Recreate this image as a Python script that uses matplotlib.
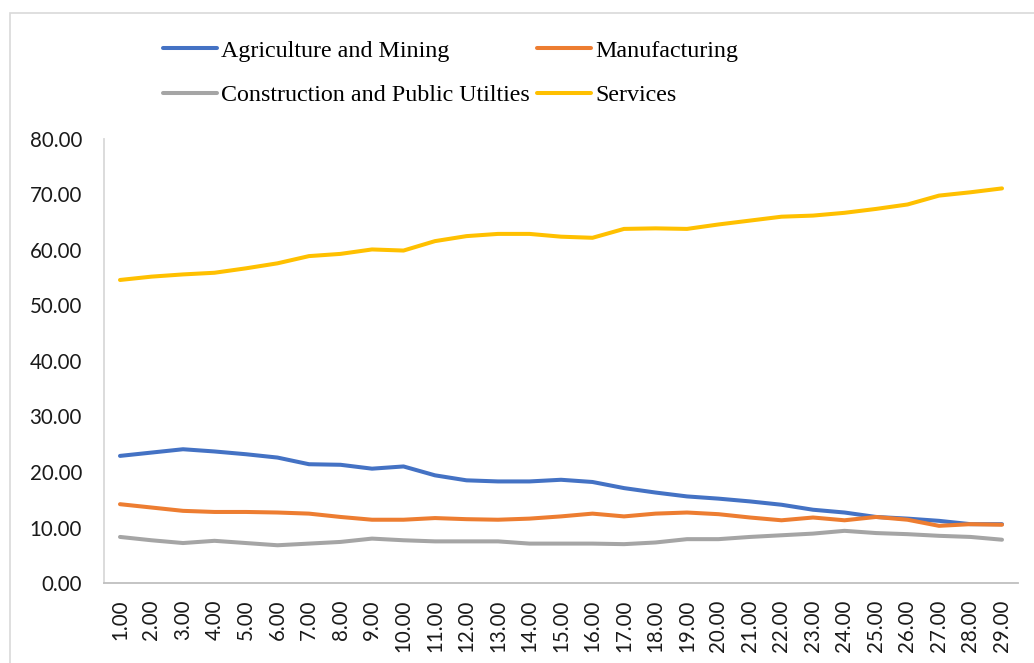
import numpy as np
import matplotlib.pyplot as plt
from matplotlib.patches import Rectangle

years = np.arange(1, 30)

agriculture = [22.9, 23.5, 24.1, 23.7, 23.2, 22.6, 21.4, 21.3, 20.6, 21.0,
               19.4, 18.5, 18.3, 18.3, 18.6, 18.2, 17.1, 16.3, 15.6, 15.2,
               14.7, 14.1, 13.2, 12.7, 11.9, 11.6, 11.2, 10.6, 10.6]
manufacturing = [14.2, 13.6, 13.0, 12.8, 12.8, 12.7, 12.5, 11.9, 11.4, 11.4,
                 11.7, 11.5, 11.4, 11.6, 12.0, 12.5, 12.0, 12.5, 12.7, 12.4,
                 11.8, 11.3, 11.8, 11.3, 11.9, 11.4, 10.3, 10.6, 10.5]
construction = [8.3, 7.7, 7.2, 7.6, 7.2, 6.8, 7.1, 7.4, 8.0, 7.7,
                7.5, 7.5, 7.5, 7.1, 7.1, 7.1, 7.0, 7.3, 7.9, 7.9,
                8.3, 8.6, 8.9, 9.4, 9.0, 8.8, 8.5, 8.3, 7.8]
services = [54.6, 55.2, 55.6, 55.9, 56.7, 57.6, 58.9, 59.3, 60.1, 59.9,
            61.6, 62.5, 62.9, 62.9, 62.4, 62.2, 63.8, 63.9, 63.8, 64.6,
            65.3, 66.0, 66.2, 66.7, 67.4, 68.2, 69.8, 70.4, 71.1]

W, H = 1034, 663
fig = plt.figure(figsize=(W / 100, H / 100), dpi=100)

# light frame around the chart area
fig.patches.append(Rectangle((10 / W, -0.1), 1.2, 1 - 13 / H + 0.1,
                             transform=fig.transFigure, fill=False,
                             edgecolor='#d9d9d9', linewidth=1.2))

ax = fig.add_axes([104.25 / W, 1 - 583 / H, (1017.75 - 104.25) / W, (583 - 139) / H])

lw = 2.9
l1, = ax.plot(years, agriculture, color='#4472C4', lw=lw, solid_capstyle='round')
l2, = ax.plot(years, manufacturing, color='#ED7D31', lw=lw, solid_capstyle='round')
l3, = ax.plot(years, construction, color='#A5A5A5', lw=lw, solid_capstyle='round')
l4, = ax.plot(years, services, color='#FFC000', lw=lw, solid_capstyle='round')

ax.set_xlim(0.5, 29.5)
ax.set_ylim(0, 80)
ax.set_yticks(np.arange(0, 81, 10))
ax.set_yticklabels([f'{v:.2f}' for v in np.arange(0, 81, 10)],
                   fontfamily='Lato', fontsize=14.8)
ax.set_xticks(years)
ax.set_xticklabels([f'{v:.2f}' for v in years], rotation=90,
                   fontfamily='Lato', fontsize=14.8)
ax.tick_params(axis='both', length=0, labelcolor='#1a1a1a')
ax.tick_params(axis='y', pad=16)
ax.tick_params(axis='x', pad=12)

for s in ['top', 'right']:
    ax.spines[s].set_visible(False)
ax.spines['left'].set_color('#d9d9d9')
ax.spines['left'].set_linewidth(1.3)
ax.spines['bottom'].set_color('#bfbfbf')
ax.spines['bottom'].set_linewidth(1.3)

leg = fig.legend([l1, l3, l2, l4],
                 ['Agriculture and Mining', 'Construction and Public Utilties',
                  'Manufacturing', 'Services'],
                 ncol=2, loc='upper left', bbox_to_anchor=(163 / W, 1 - 40 / H),
                 frameon=False, prop={'family': 'Liberation Serif', 'size': 17.3},
                 handlelength=2.25, handletextpad=0.17, columnspacing=0.3,
                 labelspacing=0.95, borderaxespad=0, borderpad=0)

fig.savefig('out.png', dpi=100)
